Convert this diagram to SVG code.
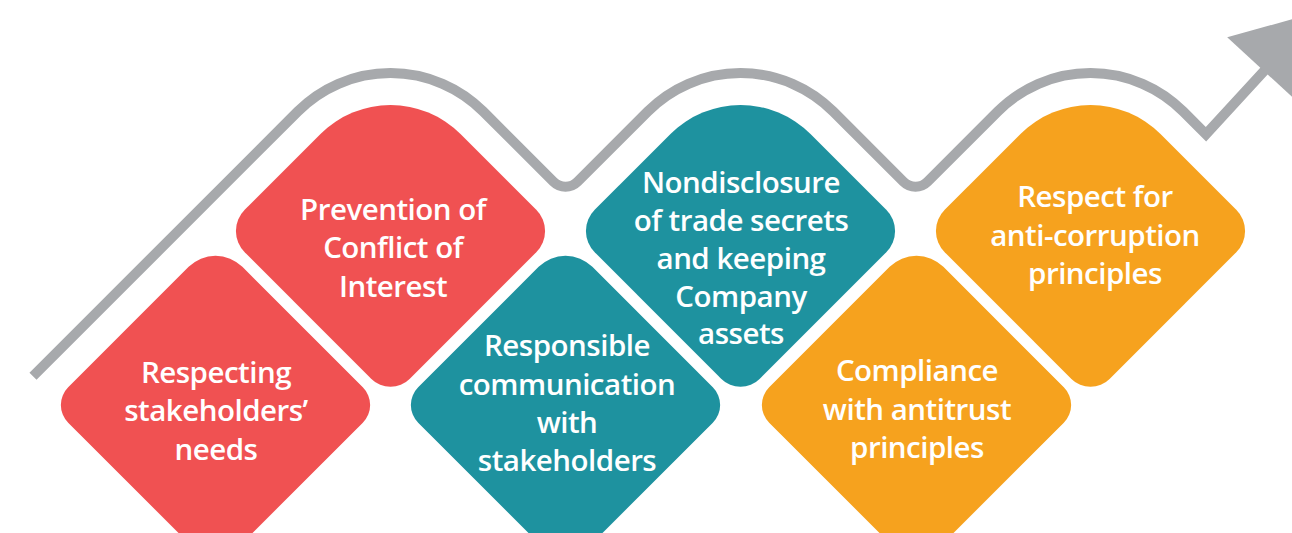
<svg xmlns="http://www.w3.org/2000/svg" xmlns:xlink="http://www.w3.org/1999/xlink" width="1292" height="533" viewBox="0 0 1292 533">
<style>
.red{fill:#F05152}
.teal{fill:#1E929F}
.orange{fill:#F6A21E}
.lbl{font-family:"Open Sans","Noto Sans","Liberation Sans",sans-serif;font-size:29.5px;font-weight:600;fill:#FFFFFF;text-anchor:middle;letter-spacing:-0.5px}
.wave{fill:none;stroke:#A7A9AC;stroke-width:10;stroke-linejoin:miter;stroke-linecap:butt}
.head{fill:#A7A9AC}
</style>
<defs>
<path id="shTop" d="M -70,-97 A 99 99 0 0 1 70,-97 L 145.79,-21.21 A 30 30 0 0 1 145.79,21.21 L 19.09,147.91 A 27 27 0 0 1 -19.09,147.91 L -145.79,21.21 A 30 30 0 0 1 -145.79,-21.21 Z"/>
<path id="shBot" d="M -26.87,-138.13 A 38 38 0 0 1 26.87,-138.13 L 147.32,-17.68 A 25 25 0 0 1 147.32,17.68 L 26.87,138.13 A 38 38 0 0 1 -26.87,138.13 L -147.32,17.68 A 25 25 0 0 1 -147.32,-17.68 Z"/>
</defs>
<g id="connectors">
<path class="wave" d="M 33,376.25 L 297.87,111.38 A 131 131 0 0 1 483.13,111.38 L 553.5,181.75 A 17 17 0 0 0 577.5,181.75 L 647.87,111.38 A 131 131 0 0 1 833.13,111.38 L 903.5,181.75 A 17 17 0 0 0 927.5,181.75 L 997.87,111.38 A 131 131 0 0 1 1183.13,111.38 L 1206,134.25 L 1267.4,67.3"/>
<polygon class="head" points="1227.2,37.2 1318.2,12.1 1300.8,104.9"/>
</g>
<g id="node-respecting">
<use xlink:href="#shBot" class="red" transform="translate(215.5,405)"/>
<text class="lbl" x="216" y="383">Respecting</text>
<text class="lbl" x="216" y="421">stakeholders’</text>
<text class="lbl" x="216" y="460">needs</text>
</g>
<g id="node-prevention">
<use xlink:href="#shTop" class="red" transform="translate(390.5,231)"/>
<text class="lbl" x="393" y="220">Prevention of</text>
<text class="lbl" x="393" y="258">Conflict of</text>
<text class="lbl" x="393" y="297">Interest</text>
</g>
<g id="node-responsible">
<use xlink:href="#shBot" class="teal" transform="translate(565.5,405)"/>
<text class="lbl" x="567" y="356">Responsible</text>
<text class="lbl" x="567" y="395">communication</text>
<text class="lbl" x="567" y="433">with</text>
<text class="lbl" x="567" y="471">stakeholders</text>
</g>
<g id="node-nondisclosure">
<use xlink:href="#shTop" class="teal" transform="translate(740.5,231)"/>
<text class="lbl" x="741" y="193">Nondisclosure</text>
<text class="lbl" x="741" y="231">of trade secrets</text>
<text class="lbl" x="741" y="269">and keeping</text>
<text class="lbl" x="741" y="307">Company</text>
<text class="lbl" x="741" y="344">assets</text>
</g>
<g id="node-compliance">
<use xlink:href="#shBot" class="orange" transform="translate(916.5,405)"/>
<text class="lbl" x="917" y="381">Compliance</text>
<text class="lbl" x="917" y="420">with antitrust</text>
<text class="lbl" x="917" y="458">principles</text>
</g>
<g id="node-respect">
<use xlink:href="#shTop" class="orange" transform="translate(1090.5,231)"/>
<text class="lbl" x="1095" y="207">Respect for</text>
<text class="lbl" x="1095" y="246">anti-corruption</text>
<text class="lbl" x="1095" y="284">principles</text>
</g>
</svg>
